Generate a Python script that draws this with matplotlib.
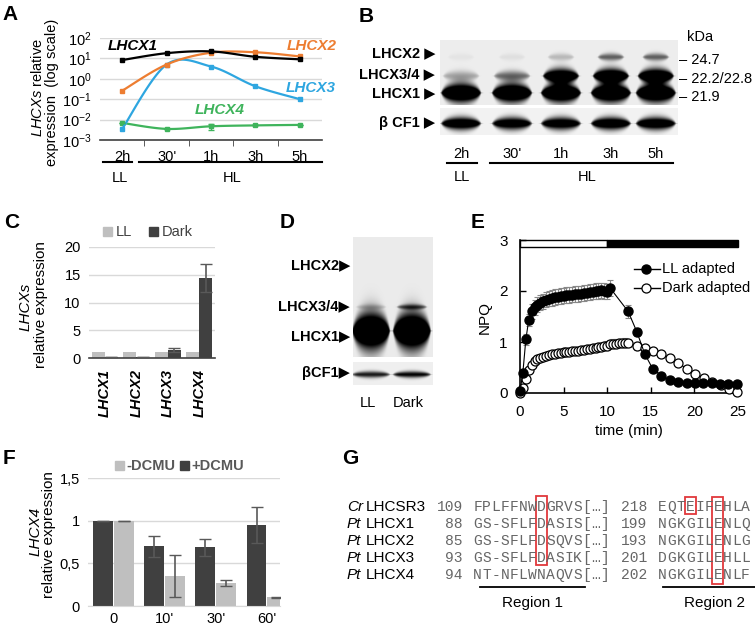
import numpy as np
import matplotlib
matplotlib.use('Agg')
import matplotlib.pyplot as plt
from matplotlib.patches import Rectangle
from matplotlib.ticker import NullLocator, FixedLocator

plt.rcParams['font.family'] = ['Liberation Sans', 'DejaVu Sans']
plt.rcParams['mathtext.fontset'] = 'custom'
plt.rcParams['mathtext.rm'] = 'Liberation Sans'
plt.rcParams['mathtext.it'] = 'Liberation Sans:italic'
plt.rcParams['mathtext.bf'] = 'Liberation Sans:bold'

# ---------------- data ----------------
# Panel A
a_times = ['2h', "30'", '1h', '3h', '5h']
a_lhcx1 = [8.3, 18, 22, 12, 9]
a_lhcx2 = [0.26, 5, 19, 20, 12.5]
a_lhcx3 = [0.0035, 5, 4, 0.43, 0.1]
a_lhcx4 = [0.0069, 0.0035, 0.0047, 0.0052, 0.0055]
a_lhcx4_err = [0, 0, 0.0015, 0, 0]

# Panel B (western blot band intensities per lane)
b_lanes = ['2h', "30'", '1h', '3h', '5h']
b_lhcx2 = [0.04, 0.06, 0.22, 0.6, 0.6]
b_lhcx34 = [0.3, 0.55, 1.5, 1.6, 1.6]
b_lhcx1 = [1.7, 1.7, 1.7, 1.7, 1.7]
b_cf1 = [1.4, 1.3, 1.3, 1.4, 1.4]

# Panel C
c_genes = ['LHCX1', 'LHCX2', 'LHCX3', 'LHCX4']
c_ll = [1, 1, 1, 1]
c_dark = [0.1, 0.1, 1.45, 14.4]
c_dark_err = [0, 0, 0.4, 2.5]

# Panel D (blot)
d_lanes = ['LL', 'Dark']
d_lhcx34 = [0.15, 0.6]
d_lhcx1 = [1.8, 1.8]
d_cf1 = [0.9, 1.0]

# Panel E
e_t_ll = [0, 0.33, 0.67, 1, 1.33, 1.67, 2, 2.33, 2.67, 3, 3.33, 3.67, 4, 4.33, 4.67, 5,
          5.33, 5.67, 6, 6.33, 6.67, 7, 7.33, 7.67, 8, 8.33, 8.67, 9, 9.33, 9.67, 10, 10.33,
          12.4, 13.4, 14.3, 15.2, 16.2, 17.2, 18.1, 19.1, 20.1, 21.0, 22.0, 22.9, 23.9, 24.9]
e_ll = [0.03, 0.4, 1.05, 1.43, 1.6, 1.68, 1.73, 1.77, 1.8, 1.83, 1.85, 1.86, 1.88, 1.89, 1.9, 1.91,
        1.92, 1.92, 1.93, 1.94, 1.94, 1.95, 1.96, 1.97, 1.98, 1.99, 2.0, 2.0, 2.01, 2.0, 1.99, 2.06,
        1.6, 1.2, 0.77, 0.48, 0.34, 0.25, 0.22, 0.2, 0.2, 0.2, 0.2, 0.18, 0.18, 0.18]
e_ll_err = [0.02, 0.05, 0.1, 0.12, 0.14, 0.15, 0.15, 0.15, 0.15, 0.15, 0.15, 0.15, 0.15, 0.15, 0.15, 0.15,
            0.15, 0.15, 0.15, 0.15, 0.15, 0.15, 0.15, 0.15, 0.15, 0.15, 0.15, 0.15, 0.15, 0.15, 0.15, 0.15,
            0.12, 0.08, 0.05, 0.04, 0.03, 0.02, 0.02, 0.02, 0.02, 0.02, 0.02, 0.02, 0.02, 0.02]
e_t_dk = [0, 0.33, 0.67, 1, 1.33, 1.67, 2, 2.33, 2.67, 3, 3.33, 3.67, 4, 4.33, 4.67, 5,
          5.33, 5.67, 6, 6.33, 6.67, 7, 7.33, 7.67, 8, 8.33, 8.67, 9, 9.33, 9.67, 10, 10.33,
          10.67, 11, 11.33, 11.67, 12, 12.4, 13.4, 14.3, 15.3, 16.2, 17.2, 18.1, 19.1, 20.1,
          21.1, 22.0, 23.0, 24.0, 24.9]
e_dk = [0.0, 0.1, 0.27, 0.45, 0.55, 0.62, 0.66, 0.69, 0.71, 0.73, 0.75, 0.76, 0.77, 0.78, 0.79, 0.8,
        0.8, 0.81, 0.82, 0.82, 0.83, 0.84, 0.85, 0.86, 0.87, 0.88, 0.89, 0.9, 0.91, 0.92, 0.93, 0.96,
        0.97, 0.97, 0.98, 0.98, 0.99, 0.98, 0.92, 0.89, 0.83, 0.76, 0.69, 0.59, 0.48, 0.38,
        0.29, 0.21, 0.15, 0.07, 0.01]
e_dk_err = [0.01, 0.02, 0.04, 0.05, 0.06, 0.06, 0.06, 0.06, 0.06, 0.06, 0.06, 0.06, 0.06, 0.06, 0.06, 0.06,
            0.06, 0.06, 0.06, 0.06, 0.06, 0.06, 0.07, 0.07, 0.07, 0.07, 0.07, 0.07, 0.07, 0.08, 0.08, 0.08,
            0.08, 0.08, 0.08, 0.08, 0.08, 0.08, 0.07, 0.06, 0.05, 0.05, 0.04, 0.04, 0.03, 0.03,
            0.03, 0.02, 0.02, 0.02, 0.01]

# Panel F
f_times = ['0', "10'", "30'", "60'"]
f_plus = [1.0, 0.7, 0.69, 0.95]
f_plus_err = [0.0, 0.12, 0.1, 0.21]
f_minus = [1.0, 0.35, 0.27, 0.1]
f_minus_err = [0.0, 0.25, 0.04, 0.01]

# Panel G
g_species = ['Cr', 'Pt', 'Pt', 'Pt', 'Pt']
g_names = ['LHCSR3', 'LHCX1', 'LHCX2', 'LHCX3', 'LHCX4']
g_start1 = [109, 88, 85, 93, 94]
g_seq1 = ['FPLFFNWDGRVS', 'GS-SFLFDASIS', 'GS-SFLFDSQVS', 'GS-SFLFDASIK', 'NT-NFLWNAQVS']
g_start2 = [218, 199, 193, 201, 202]
g_seq2 = ['EQTEIFEHLA', 'NGKGILENLQ', 'NGKGILENLG', 'DGKGILEHLL', 'NGKGILENLF']

# ---------------- figure ----------------
W, H = 755, 627
fig = plt.figure(figsize=(W / 100, H / 100), dpi=100)

def add_ax(x0, y0, x1, y1):
    return fig.add_axes([x0 / W, 1 - y1 / H, (x1 - x0) / W, (y1 - y0) / H])

cv = fig.add_axes([0, 0, 1, 1])
cv.axis('off')

def T(x, y, s, **kw):
    kw.setdefault('ha', 'center')
    kw.setdefault('va', 'center')
    cv.text(x, y, s, **kw)

def blot(x0, x1, y0, y1, bands, bg=0.92, res=3):
    nx = int((x1 - x0) * res)
    ny = int((y1 - y0) * res)
    X, Y = np.meshgrid(np.linspace(x0, x1, nx), np.linspace(y0, y1, ny))
    D = np.zeros_like(X)
    for (xc, yc, hw, hh, inten) in bands:
        u = (X - xc) / hw
        w = np.clip(1 - u ** 2, 0, None) ** 0.6
        D += inten * np.exp(-((Y - yc) / (hh * w + 0.3)) ** 2) * np.exp(-u ** 10)
    img = bg * (1 - np.clip(D, 0, 1))
    cv.imshow(img, extent=(x0, x1, y1, y0), cmap='gray', vmin=0, vmax=1,
              aspect='auto', interpolation='bilinear')

letter_kw = dict(fontsize=15, fontweight='bold', ha='center', va='center')

# ---------------- Panel A ----------------
def smooth(xs, ys, n=30):
    P = np.column_stack([xs, ys]).astype(float)
    pts = np.vstack([P[0], P, P[-1]])
    out = []
    for i in range(1, len(pts) - 2):
        p0, p1, p2, p3 = pts[i - 1:i + 3]
        t = np.linspace(0, 1, n)[:, None]
        c = 0.5 * ((2 * p1) + (-p0 + p2) * t + (2 * p0 - 5 * p1 + 4 * p2 - p3) * t ** 2
                   + (-p0 + 3 * p1 - 3 * p2 + p3) * t ** 3)
        out.append(c)
    return np.vstack(out)

axA = add_ax(100, 38, 322, 140)
axA.set_facecolor('none')
xa = np.arange(len(a_times))
colA = {'k': '#000000', 'o': '#ED7D31', 'b': '#2EA6E0', 'g': '#3FB45C'}
for vals, c in [(a_lhcx4, colA['g']), (a_lhcx3, colA['b']), (a_lhcx2, colA['o']), (a_lhcx1, colA['k'])]:
    s = smooth(xa, np.log10(vals))
    axA.plot(s[:, 0], 10 ** s[:, 1], color=c, lw=1.6, solid_capstyle='round')
    axA.plot(xa, vals, 's', color=c, ms=3.5)
axA.errorbar(xa, a_lhcx4, yerr=a_lhcx4_err, fmt='none', ecolor=colA['g'], elinewidth=1, capsize=2.5)
axA.set_yscale('log')
axA.set_ylim(1e-3, 1e2)
axA.set_xlim(-0.5, 4.5)
axA.yaxis.set_major_locator(FixedLocator([1e-3, 1e-2, 1e-1, 1, 10, 100]))
axA.yaxis.set_minor_locator(NullLocator())
axA.set_yticklabels([r'$10^{-3}$', r'$10^{-2}$', r'$10^{-1}$', r'$10^{0}$', r'$10^{1}$', r'$10^{2}$'])
axA.tick_params(axis='y', length=0, labelsize=10.5, pad=6)
axA.yaxis.grid(True, color='#D9D9D9', lw=1)
axA.set_axisbelow(True)
for sp in ['left', 'top', 'right']:
    axA.spines[sp].set_visible(False)
axA.spines['bottom'].set_color('#404040')
axA.spines['bottom'].set_linewidth(1.2)
axA.set_xticks(xa)
axA.set_xticklabels(a_times, fontsize=10.5)
axA.set_xticks([0.5, 1.5, 2.5, 3.5], minor=True)
axA.tick_params(axis='x', which='major', length=0, pad=7)
axA.tick_params(axis='x', which='minor', length=4, color='#404040', direction='out')
lab_kw = dict(ha='left', fontsize=11, fontweight='bold', style='italic')
T(108, 46, 'LHCX1', color='black', **lab_kw)
T(287, 46, 'LHCX2', color=colA['o'], **lab_kw)
T(286, 88, 'LHCX3', color=colA['b'], **lab_kw)
T(195, 110, 'LHCX4', color=colA['g'], **lab_kw)
T(38, 88, r'$\mathit{LHCXs}$ relative', rotation=90, fontsize=10.5)
T(52, 92, 'expression  (log scale)', rotation=90, fontsize=10.5)
cv.plot([103, 132], [162, 162], color='black', lw=1.5)
cv.plot([139, 322], [162, 162], color='black', lw=1.5)
T(120, 178, 'LL', fontsize=10.5)
T(232, 178, 'HL', fontsize=10.5)
T(10, 15, 'A', **letter_kw)

# ---------------- Panel B ----------------
b_x = [461, 512, 561, 611, 656]
bands_up = []
for i, xc in enumerate(b_x):
    bands_up.append((xc, 57, 13, 3.5, b_lhcx2[i]))
    bands_up.append((xc, 76, 18, 7.0 if b_lhcx34[i] > 1 else 5.0, b_lhcx34[i]))
    bands_up.append((xc, 93, 20, 9.0, b_lhcx1[i]))
blot(440, 678, 40, 105, bands_up, bg=0.93)
blot(440, 678, 108, 135, [(xc, 123.5, 20, 6.0, b_cf1[i]) for i, xc in enumerate(b_x)], bg=0.95)
bl_kw = dict(ha='right', fontsize=10.5, fontweight='bold')
T(435, 53, 'LHCX2 \u25B6', **bl_kw)
T(435, 74, 'LHCX3/4 \u25B6', **bl_kw)
T(435, 93, 'LHCX1 \u25B6', **bl_kw)
T(435, 123, '\u03B2 CF1 \u25B6', **bl_kw)
T(687, 37, 'kDa', ha='left', fontsize=10.5)
T(679, 60, '\u2013 24.7', ha='left', fontsize=10.5)
T(679, 79, '\u2013 22.2/22.8', ha='left', fontsize=10.5)
T(679, 97, '\u2013 21.9', ha='left', fontsize=10.5)
for xc, lab in zip(b_x, b_lanes):
    T(xc, 154, lab, fontsize=10.5)
cv.plot([447, 477], [163, 163], color='black', lw=1.5)
cv.plot([490, 673], [163, 163], color='black', lw=1.5)
T(462, 177, 'LL', fontsize=10.5)
T(587, 177, 'HL', fontsize=10.5)
T(366, 16, 'B', **letter_kw)

# ---------------- Panel C ----------------
axC = add_ax(89, 247, 215, 358)
axC.set_facecolor('none')
xc_ = np.arange(len(c_genes))
axC.bar(xc_ - 0.205, c_ll, width=0.41, color='#BFBFBF', zorder=2)
axC.bar(xc_ + 0.205, c_dark, width=0.41, color='#404040', zorder=2)
axC.errorbar(xc_ + 0.205, c_dark, yerr=c_dark_err, fmt='none', ecolor='#595959', elinewidth=1.2,
             capsize=4, zorder=3)
axC.set_ylim(0, 20)
axC.set_xlim(-0.5, 3.5)
axC.set_yticks([0, 5, 10, 15, 20])
axC.yaxis.grid(True, color='#D9D9D9', lw=1)
axC.set_axisbelow(True)
for sp in ['left', 'top', 'right']:
    axC.spines[sp].set_visible(False)
axC.spines['bottom'].set_color('#404040')
axC.spines['bottom'].set_linewidth(1.2)
axC.set_xticks(xc_)
axC.set_xticklabels(c_genes, rotation=90, fontsize=10.5, fontweight='bold', style='italic')
axC.tick_params(axis='both', length=0, labelsize=10.5)
axC.tick_params(axis='x', pad=8)
axC.tick_params(axis='y', pad=6)
cv.add_patch(Rectangle((103, 227), 9, 9, color='#BFBFBF'))
T(116, 231.5, 'LL', ha='left', fontsize=10.5, color='#404040')
cv.add_patch(Rectangle((149, 227), 9, 9, color='#404040'))
T(162, 231.5, 'Dark', ha='left', fontsize=10.5, color='#404040')
T(26, 307, 'LHCXs', rotation=90, fontsize=11, style='italic')
T(41, 305, 'relative expression', rotation=90, fontsize=11)
T(12, 222, 'C', **letter_kw)

# ---------------- Panel D ----------------
d_x = [371, 412]
bands_d = []
for i, xc in enumerate(d_x):
    bands_d.append((xc, 307, 15, 2.5, d_lhcx34[i]))
    bands_d.append((xc, 331, 19, 18.0, d_lhcx1[i]))
blot(353, 433, 237, 357, bands_d, bg=0.92)
blot(353, 433, 362, 385, [(xc, 374.5, 19, 3.0, d_cf1[i]) for i, xc in enumerate(d_x)], bg=0.94)
T(350, 265, 'LHCX2\u25B6', **bl_kw)
T(350, 306, 'LHCX3/4\u25B6', **bl_kw)
T(350, 336, 'LHCX1\u25B6', **bl_kw)
T(350, 373, '\u03B2CF1\u25B6', **bl_kw)
for xc, lab in zip([368, 408], d_lanes):
    T(xc, 403, lab, fontsize=10.5)
T(287, 222, 'D', **letter_kw)

# ---------------- Panel E ----------------
axE = add_ax(520, 240, 738, 393)
axE.set_facecolor('none')
axE.errorbar(e_t_dk, e_dk, yerr=e_dk_err, fmt='none', ecolor='#888888', elinewidth=0.8, capsize=2,
             capthick=0.8, zorder=2)
axE.errorbar(e_t_ll, e_ll, yerr=e_ll_err, fmt='none', ecolor='#888888', elinewidth=0.8, capsize=2,
             capthick=0.8, zorder=2)
axE.plot(e_t_dk, e_dk, '-o', color='black', lw=0.8, ms=6.5, mfc='white', mec='black', mew=0.9,
         zorder=3, clip_on=False)
axE.plot(e_t_ll, e_ll, '-o', color='black', lw=0.8, ms=6.5, mfc='black', mec='black', zorder=4,
         clip_on=False)
axE.set_xlim(0, 25)
axE.set_ylim(0, 3)
axE.set_xticks([0, 5, 10, 15, 20, 25])
axE.set_yticks([0, 1, 2, 3])
for sp in ['top', 'right']:
    axE.spines[sp].set_visible(False)
for sp in ['left', 'bottom']:
    axE.spines[sp].set_linewidth(1.2)
axE.tick_params(direction='in', length=4, width=1, labelsize=11)
axE.tick_params(axis='x', pad=9)
axE.tick_params(axis='y', pad=9)
axE.add_patch(Rectangle((0, 2.87), 10, 0.13, facecolor='white', edgecolor='black', lw=1, clip_on=False))
axE.add_patch(Rectangle((10, 2.87), 15, 0.13, facecolor='black', edgecolor='black', lw=1, clip_on=False))
cv.plot([634, 660], [269, 269], color='black', lw=1)
cv.plot([646], [269], 'o', color='black', ms=6.5)
cv.plot([634, 660], [288, 288], color='black', lw=1)
cv.plot([646], [288], 'o', mfc='white', mec='black', ms=6.5, mew=0.9)
T(662, 269, 'LL adapted', ha='left', fontsize=10.5)
T(662, 288, 'Dark adapted', ha='left', fontsize=10.5)
T(485, 318, 'NPQ', rotation=90, fontsize=11)
T(629, 431, 'time (min)', fontsize=11)
T(478, 222, 'E', **letter_kw)

# ---------------- Panel F ----------------
axF = add_ax(88, 478, 280, 606)
axF.set_facecolor('none')
xf = np.arange(len(f_times))
axF.bar(xf - 0.2, f_plus, width=0.39, color='#404040', zorder=2)
axF.bar(xf + 0.2, f_minus, width=0.39, color='#BFBFBF', zorder=2)
axF.errorbar(xf - 0.2, f_plus, yerr=f_plus_err, fmt='none', ecolor='#595959', elinewidth=1.2, capsize=4, zorder=3)
axF.errorbar(xf + 0.2, f_minus, yerr=f_minus_err, fmt='none', ecolor='#595959', elinewidth=1.2, capsize=4, zorder=3)
axF.set_ylim(0, 1.5)
axF.set_xlim(-0.5, 3.26)
axF.set_yticks([0, 0.5, 1, 1.5])
axF.set_yticklabels(['0', '0,5', '1', '1,5'])
axF.yaxis.grid(True, color='#D9D9D9', lw=1)
axF.set_axisbelow(True)
for sp in ['left', 'top', 'right']:
    axF.spines[sp].set_visible(False)
axF.spines['bottom'].set_color('#D9D9D9')
axF.set_xticks(xf)
axF.set_xticklabels(f_times)
axF.tick_params(axis='both', length=0, labelsize=10.5)
axF.tick_params(axis='x', pad=4)
axF.tick_params(axis='y', pad=6)
cv.add_patch(Rectangle((115, 461), 9, 9, color='#BFBFBF'))
T(126, 465.5, '-DCMU', ha='left', fontsize=10.5, fontweight='bold', color='#595959')
cv.add_patch(Rectangle((180, 461), 9, 9, color='#404040'))
T(191, 465.5, '+DCMU', ha='left', fontsize=10.5, fontweight='bold', color='#595959')
T(36, 531, 'LHCX4', rotation=90, fontsize=11, style='italic')
T(49, 535, 'relative expression', rotation=90, fontsize=11)
T(9, 459, 'F', **letter_kw)

# ---------------- Panel G ----------------
rows_y = [507, 524, 541, 558, 575]
cw1, x1s = 9.1, 473
cw2, x2s = 9.2, 658
mono = dict(family='Liberation Mono', fontsize=10.5, color='#666666')
for r, y in enumerate(rows_y):
    T(347, y, g_species[r], ha='left', fontsize=11, style='italic')
    T(366, y, g_names[r], ha='left', fontsize=11)
    T(463, y, str(g_start1[r]), ha='right', **mono)
    full1 = g_seq1[r] + '[\u2026]'
    for i, ch in enumerate(full1):
        T(x1s + (i + 0.5) * cw1, y, ch, **mono)
    T(647, y, str(g_start2[r]), ha='right', **mono)
    for i, ch in enumerate(g_seq2[r]):
        T(x2s + (i + 0.5) * cw2, y, ch, **mono)
red = '#E0383C'
cv.add_patch(Rectangle((x1s + 7 * cw1 - 1, 496), cw1 + 2, 69, fill=False, edgecolor=red, lw=1.3))
cv.add_patch(Rectangle((x2s + 3 * cw2 - 1, 497), cw2 + 2, 17, fill=False, edgecolor=red, lw=1.3))
cv.add_patch(Rectangle((x2s + 6 * cw2 - 1, 497), cw2 + 2, 87, fill=False, edgecolor=red, lw=1.3))
cv.plot([480, 585], [587, 587], color='black', lw=1.3)
cv.plot([663, 755], [587, 587], color='black', lw=1.3)
T(532, 603, 'Region 1', fontsize=11)
T(715, 603, 'Region 2', fontsize=11)
T(350, 458, 'G', **letter_kw)

cv.set_xlim(0, W)
cv.set_ylim(H, 0)
fig.savefig('out.png', dpi=100)
